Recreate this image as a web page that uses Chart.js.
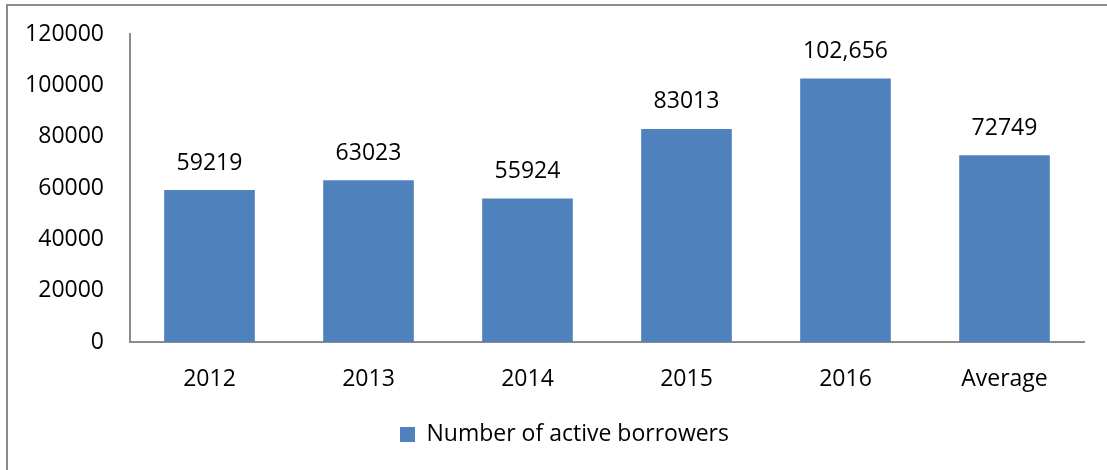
<!DOCTYPE html>
<html>
<head>
<meta charset="utf-8">
<script src="https://cdn.jsdelivr.net/npm/chart.js@4/dist/chart.umd.min.js"></script>
<style>
  body { margin: 0; background: #fff; }
  #frame {
    position: absolute; left: 6px; top: 4px;
    width: 1101px; height: 466px;
    border-top: 2px solid #8c8c8c; border-left: 2px solid #8c8c8c;
  }
</style>
</head>
<body>
<div id="frame"><canvas id="chart" width="1099" height="464"></canvas></div>
<script>
const categories = ["2012", "2013", "2014", "2015", "2016", "Average"];
const borrowers = [59219, 63023, 55924, 83013, 102656, 72749];
const valueLabels = ["59219", "63023", "55924", "83013", "102,656", "72749"];
const yTicks = [0, 20000, 40000, 60000, 80000, 100000, 120000];

const fontFamily = "'Open Sans', 'Noto Sans', sans-serif";

// draws the number above each bar
const barLabels = {
  id: "barLabels",
  afterDatasetsDraw(chart) {
    let ctx = chart.ctx;
    let meta = chart.getDatasetMeta(0);
    ctx.save();
    ctx.font = "23px " + fontFamily;
    ctx.fillStyle = "#000";
    ctx.textAlign = "center";
    ctx.textBaseline = "middle";
    meta.data.forEach((bar, i) => {
      ctx.fillText(valueLabels[i], bar.x, bar.y - 27);
    });
    ctx.restore();
  }
};

let ctx = document.getElementById("chart").getContext("2d");
let chart = new Chart(ctx, {
  type: "bar",
  data: {
    labels: categories,
    datasets: [
      {
        label: "Number of active borrowers",
        data: borrowers,
        backgroundColor: "#4f81bd",
        barPercentage: 0.57,
        categoryPercentage: 1
      }
    ]
  },
  options: {
    responsive: false,
    animation: false,
    layout: { padding: { top: 28, right: 0, bottom: 14, left: 14 } },
    plugins: {
      tooltip: { enabled: false },
      legend: {
        position: "bottom",
        labels: {
          boxWidth: 15,
          boxHeight: 15,
          padding: 6,
          color: "#000",
          font: { size: 23, family: fontFamily }
        }
      }
    },
    scales: {
      x: {
        grid: { display: false, drawTicks: false },
        border: { display: true, color: "#8c8c8c", width: 2 },
        ticks: { padding: 24, color: "#000", font: { size: 23, family: fontFamily } },
        afterFit(scale) {
          scale.height = 75;
          scale.paddingRight = 23;
        }
      },
      y: {
        min: 0,
        max: 120000,
        grid: { display: false, drawTicks: false },
        border: { display: true, color: "#8c8c8c", width: 2 },
        afterBuildTicks(scale) { scale.ticks = yTicks.map(v => ({ value: v })); },
        ticks: {
          padding: 26,
          color: "#000",
          font: { size: 23, family: fontFamily },
          callback: v => String(v)
        },
        afterFit(scale) {
          scale.width = 108;
          scale.paddingTop = 0;
          scale.paddingBottom = 0;
        }
      }
    }
  },
  plugins: [barLabels]
});
</script>
</body>
</html>
